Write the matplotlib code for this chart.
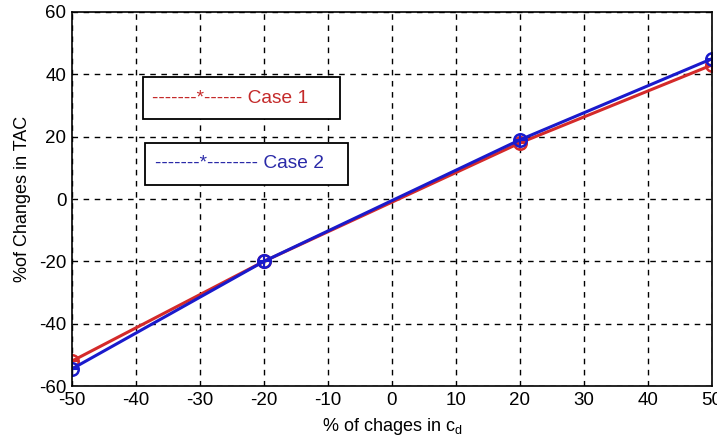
import numpy as np
import matplotlib.pyplot as plt
from matplotlib.patches import Rectangle

plt.rcParams['font.family'] = ['Liberation Sans', 'DejaVu Sans']
plt.rcParams['axes.unicode_minus'] = False

# Data.
change_cd = [-50, -20, 20, 50]
case1 = [-52, -20, 18, 43]
case2 = [-54.5, -20, 19, 45]

fig = plt.figure(figsize=(7.17, 4.44), dpi=100)
ax = fig.add_axes([0.1004, 0.1306, 0.8926, 0.8424])

# Lines with circle+plus markers.
for y, col in [(case1, '#d42a2a'), (case2, '#1a1acc')]:
    ax.plot(change_cd, y, color=col, lw=2.2, marker='o', ms=9,
            mfc='none', mec=col, mew=1.8)
    ax.plot(change_cd, y, ls='none', color=col, marker='+', ms=9, mew=1.5)

ax.set_xlim(-50, 50)
ax.set_ylim(-60, 60)
ax.set_xticks(np.arange(-50, 51, 10))
ax.set_yticks(np.arange(-60, 61, 20))
ax.grid(True, color='black', ls=(0, (4, 4)), lw=1.0)
ax.tick_params(labelsize=13.5, direction='in', length=0, pad=4)
for s in ax.spines.values():
    s.set_linewidth(1.2)

ax.set_xlabel('% of chages in c$_\\mathregular{d}$', fontsize=13, labelpad=5)
ax.set_ylabel('%of Changes in TAC', fontsize=13, labelpad=6)

# Two separate boxed "legend" labels.
boxes = [((0.111, 0.714), 0.307, 0.112, 0.125, 0.770, '-------*------ Case 1', '#c42a2a'),
         ((0.114, 0.537), 0.317, 0.113, 0.129, 0.596, '-------*-------- Case 2', '#2a2aa8')]
for xy, w, h, tx, ty, txt, col in boxes:
    ax.add_patch(Rectangle(xy, w, h, transform=ax.transAxes, fc='white',
                           ec='black', lw=1.3, zorder=5))
    ax.text(tx, ty, txt, transform=ax.transAxes, color=col, fontsize=13.8,
            va='center', zorder=6)

plt.savefig('out.png', dpi=100)
